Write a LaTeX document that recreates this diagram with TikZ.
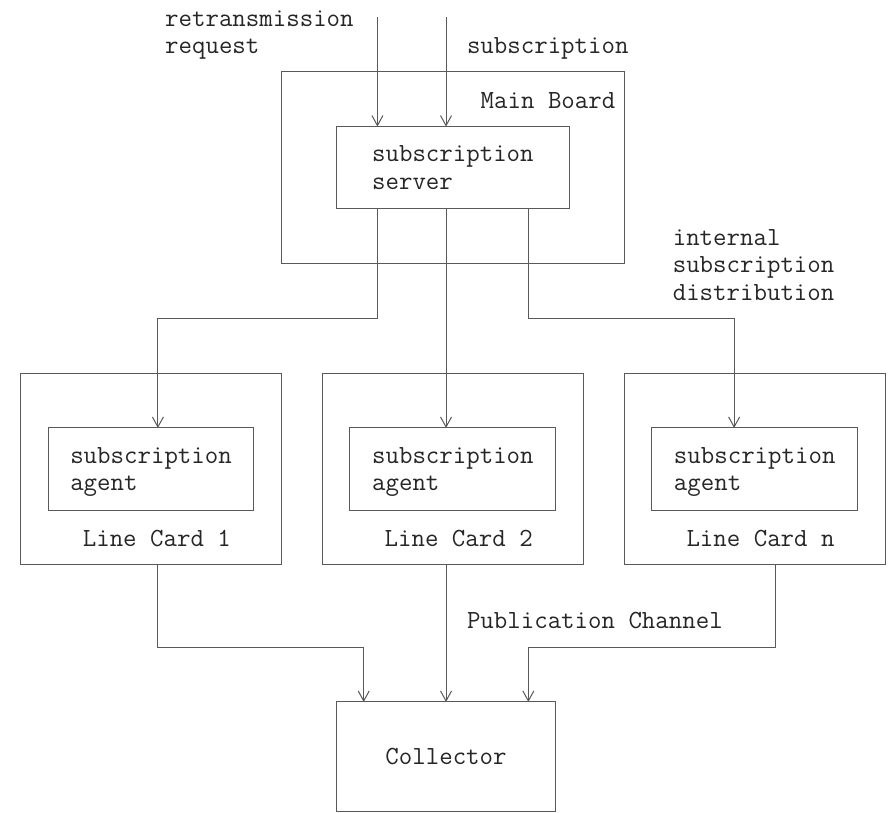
\documentclass[tikz,border=0pt]{standalone}
\usepackage{fontspec}
\usetikzlibrary{arrows.meta}
\newcommand{\colw}{6.86pt}
\newcommand{\rowh}{13.7pt}
\newcommand{\asciifont}{\fontsize{13.07pt}{13.7pt}\selectfont\ttfamily}

\begin{document}
\begin{tikzpicture}[x=\colw, y=-\rowh,
    box/.style 2 args={draw=black!65, line width=0.5pt, inner sep=0pt, outer sep=0pt,
        minimum width=#1*\colw, minimum height=#2*\rowh, align=left, text depth=0pt,
        font=\asciifont, text=black!85},
    lbl/.style={inner sep=0pt, anchor=base west, align=left, font=\asciifont, text=black!85},
    wire/.style={draw=black!65, line width=0.5pt, -{Straight Barb[length=5pt,width=5.5pt]}}]
    \path[use as bounding box, fill=white] (-1.51,-0.62) rectangle (63.36,29.05);

    \node[box={25}{7}] at (31.5,5.5) (mainb) {};
    \node[box={17}{3}] at (31.5,5.5) (server) {subscription\\server};
    \node[box={19}{7}] at (9.5,16.5) (card1) {};
    \node[box={15}{3}] at (9.5,16.5) (agent1) {subscription\\agent};
    \node[box={19}{7}] at (31.5,16.5) (card2) {};
    \node[box={15}{3}] at (31.5,16.5) (agent2) {subscription\\agent};
    \node[box={19}{7}] at (53.5,16.5) (cardn) {};
    \node[box={15}{3}] at (53.5,16.5) (agentn) {subscription\\agent};
    \node[box={16}{4}] at (31,27) (coll) {Collector};

    \node[lbl] at (10.5,1.33) (retxlbl) {retransmission\\request};
    \node[lbl] at (32.5,1.33) (sublbl) {subscription};
    \node[lbl] at (33.5,3.33) (mainlbl) {Main Board};
    \node[lbl] at (47.5,10.33) (distlbl) {internal\\subscription\\distribution};
    \node[lbl] at (4.5,19.33) (card1lbl) {Line Card 1};
    \node[lbl] at (26.5,19.33) (card2lbl) {Line Card 2};
    \node[lbl] at (48.5,19.33) (cardnlbl) {Line Card n};
    \node[lbl] at (32.5,22.33) (publbl) {Publication Channel};

    \coordinate (retx) at (26,0);
    \coordinate (subs) at (31,0);
    \coordinate (forkl) at (10,11);
    \coordinate (forkr) at (52,11);
    \coordinate (joinl) at (25,23);
    \coordinate (joinr) at (37,23);
    \coordinate (pubr) at (55,23);

    \draw[wire] (retx) -- (retx |- server.north);
    \draw[wire] (subs) -- (subs |- server.north);
    \draw[wire] (server.south -| retx) |- (forkl) -- (forkl |- agent1.north);
    \draw[wire] (server.south -| subs) -- (subs |- agent2.north);
    \draw[wire] (server.south -| joinr) |- (forkr) -- (forkr |- agentn.north);
    \draw[wire] (card1.south -| forkl) |- (joinl) -- (joinl |- coll.north);
    \draw[wire] (card2.south -| subs) -- (subs |- coll.north);
    \draw[wire] (cardn.south -| pubr) -- (pubr) -- (joinr) -- (joinr |- coll.north);
\end{tikzpicture}
\end{document}
